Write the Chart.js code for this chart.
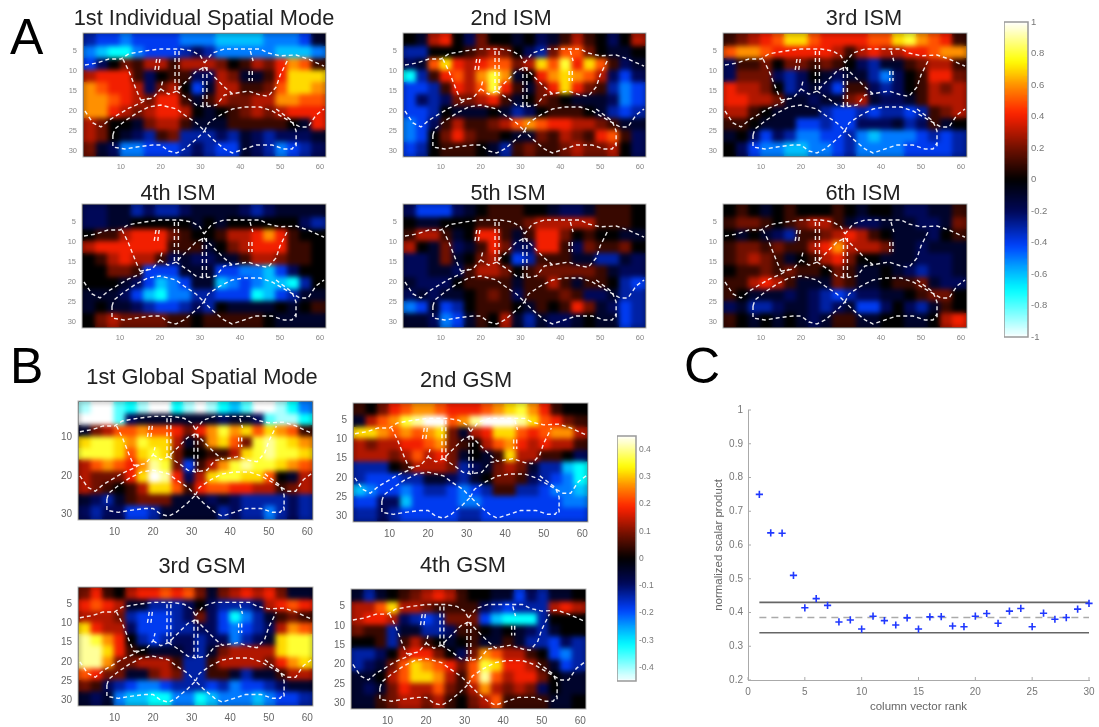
<!DOCTYPE html>
<html>
<head>
<meta charset="utf-8">
<script src="https://cdn.jsdelivr.net/npm/chart.js@4"></script>
<style>
  html,body{margin:0;padding:0;background:#fff;width:1099px;height:727px;overflow:hidden}
  #page{position:absolute;left:0;top:0;width:1099px;height:727px;filter:blur(.5px)}
  #page canvas{position:absolute}
  .ttl{position:absolute;font:21.8px/22px "Liberation Sans",sans-serif;color:#222;white-space:nowrap;transform:translateX(-50%)}
  .let{position:absolute;font:50px/50px "Liberation Sans",sans-serif;color:#000}
</style>
</head>
<body>
<div id="page"></div>
<script>
// tick lists
const xTicks = [10,20,30,40,50,60];
const yTicks = [5,10,15,20,25,30];
const yTicksG1 = [10,20,30];
const cbTicksA = [-1,-0.8,-0.6,-0.4,-0.2,0,0.2,0.4,0.6,0.8,1];
const cbTicksB = [-0.4,-0.3,-0.2,-0.1,0,0.1,0.2,0.3,0.4];
const rankTicks = [0,5,10,15,20,25,30];
const scoreTicks = [0.2,0.3,0.4,0.5,0.6,0.7,0.8,0.9,1];

// colour bar levels
const cbLevels = [-1,-.96,-.92,-.88,-.84,-.8,-.76,-.72,-.68,-.64,-.6,-.56,-.52,-.48,-.44,-.4,-.36,-.32,-.28,-.24,-.2,-.16,-.12,-.08,-.04,0,.04,.08,.12,.16,.2,.24,.28,.32,.36,.4,.44,.48,.52,.56,.6,.64,.68,.72,.76,.8,.84,.88,.92,.96,1];

// heat maps, one value every 3 cells, tenths of the colour range
const cellX = [2.5,5.5,8.5,11.5,14.5,17.5,20.5,23.5,26.5,29.5,32.5,35.5,38.5,41.5,44.5,47.5,50.5,53.5,56.5,59.5];
const cellY = [2.5,5.5,8.5,11.5,14.5,17.5,20.5,23.5,26.5,29.5];
const ism1 = [
[-3,-4,-4,-5,-4,-4,-4,-4,-5,-5,-5,-6,-6,-6,-6,-5,-5,-5,-4,-1],
[-5,-6,-7,-7,-5,-4,-4,-4,-3,-2,-3,-5,-5,-5,-5,-5,-6,-6,-6,-5],
[-4,-2,0,2,1,3,3,1,3,3,3,2,0,1,3,2,4,6,5,1],
[3,4,4,4,1,-2,0,1,1,-2,-2,3,2,-1,-1,1,4,7,7,7],
[6,5,4,4,3,-2,2,3,0,-4,-1,3,3,1,1,2,5,7,7,6],
[6,6,5,4,3,2,4,4,1,-1,1,3,2,2,3,3,6,6,5,5],
[6,6,4,3,2,3,4,4,3,0,-1,0,1,2,3,2,3,4,4,4],
[3,2,0,0,-1,2,3,3,1,-1,-1,-1,1,1,1,1,1,0,-1,4],
[3,2,0,-1,-2,-3,1,2,-3,-3,-3,-2,-3,-1,-2,-3,-2,-2,-2,-1],
[2,-1,-2,-5,-5,-4,-4,-4,-3,-2,-3,-4,-4,-1,-2,-3,-5,-4,-3,-2]];
const ism2 = [
[0,-1,3,4,0,-2,2,0,0,-1,0,-2,-1,1,3,1,0,-2,0,3],
[-3,-3,0,0,0,1,2,3,2,0,-2,-3,2,5,5,2,0,-1,-1,0],
[-2,-1,5,7,4,3,4,5,5,2,3,7,5,8,4,7,5,1,-2,-1],
[-7,-3,1,4,5,3,6,8,6,-1,0,4,6,7,6,5,3,-2,-4,-2],
[-4,-4,-3,1,4,3,5,8,4,1,-1,2,4,7,4,2,1,-3,-5,-4],
[-4,-2,-3,-2,2,2,3,4,1,-1,0,2,1,0,-1,-1,-1,-2,-5,-4],
[-4,-4,-3,0,-1,-1,-1,0,-1,-3,-2,0,1,1,1,0,-1,-3,-4,-3],
[-5,-4,-2,1,3,1,1,2,3,5,6,5,4,4,3,3,2,1,-1,-1],
[-5,-4,0,2,4,2,1,1,0,-1,-1,2,1,3,2,1,4,5,1,-2],
[-4,-3,0,1,1,1,0,-1,-3,1,2,1,1,2,3,2,2,3,0,-2]];
const ism3 = [
[1,2,3,4,5,7,7,5,4,4,4,4,5,5,7,8,6,5,4,1],
[5,6,6,5,4,4,4,4,4,3,1,3,4,3,3,4,4,5,6,6],
[-2,1,1,2,0,2,2,1,2,1,0,-2,-3,-1,-1,1,2,3,3,1],
[-2,2,2,2,-2,-3,-2,0,-1,-2,-1,-1,-3,-5,-2,0,1,4,4,2],
[4,3,3,2,0,-3,-2,-1,-2,-4,1,1,-2,-3,-2,0,1,3,2,3],
[4,4,3,3,2,-1,-1,-2,-1,-1,2,3,-1,-2,-2,-1,1,3,3,3],
[3,3,1,0,-1,-1,-1,-1,-3,-4,-4,-3,-4,-3,-3,-4,-3,1,2,3],
[1,1,0,-1,-1,-1,-4,-4,-3,-4,-4,-2,-2,-2,-1,-3,-2,1,-1,0],
[-1,0,-2,-4,-2,-3,-5,-5,-4,-4,-3,-5,-6,-5,-5,-5,-4,-3,-4,-3],
[0,-2,-4,-5,-5,-6,-6,-5,-5,-4,-3,-5,-5,-5,-5,-4,-4,-4,-4,-3]];
const ism4 = [
[-2,-2,-1,-1,-3,-2,-3,-3,-2,-1,-1,-1,-1,-2,-3,-2,-1,-1,-1,-1],
[-2,-2,-1,-1,0,0,0,0,0,-1,0,-1,0,0,0,0,0,0,-2,-3],
[0,1,1,3,4,4,4,2,1,0,0,1,3,3,4,6,4,1,0,0],
[3,4,4,4,4,4,4,1,1,1,-1,0,2,3,4,4,4,1,1,0],
[0,1,3,4,3,3,1,-2,-1,-2,-2,-1,-1,1,3,3,2,1,1,0],
[0,0,2,2,1,-4,-4,-4,-1,-1,-1,-4,-4,-5,-5,-6,-4,-2,0,0],
[0,0,0,-1,-2,-4,-6,-5,-4,-1,-1,-6,-5,-4,-5,-6,-6,-7,-3,0],
[-1,-1,-1,-2,-4,-6,-7,-5,-5,-3,-3,-4,-4,-4,-7,-6,-4,-3,-1,-1],
[-1,0,-1,-1,-2,-3,-4,-4,-3,-2,-3,0,-1,-1,-1,-1,0,-1,0,1],
[0,2,3,2,2,2,2,1,1,0,1,1,1,1,1,0,-1,-1,-1,-1]];
const ism5 = [
[-2,-4,-4,-4,-2,-1,0,1,1,1,0,0,-1,-2,-2,-1,1,1,1,0],
[0,-1,-1,0,0,0,1,1,1,1,2,3,3,3,3,3,1,1,1,0],
[1,3,3,1,-1,0,4,4,1,-1,1,4,4,2,0,1,0,0,-1,-1],
[3,0,-1,2,-2,-1,1,4,2,-2,-2,4,4,1,-2,2,1,1,2,0],
[-2,-2,-1,2,-1,0,2,3,0,-4,-3,1,1,1,-1,-1,-3,-3,-1,-2],
[-2,-2,-1,-1,-2,1,3,3,2,0,1,2,2,2,2,2,1,-1,-2,-2],
[-1,-2,-2,-2,0,1,1,1,1,-1,1,1,3,1,-1,1,1,0,-3,-4],
[-2,-1,-2,-1,-1,0,1,2,1,-2,1,1,1,2,1,-2,-2,-1,-3,-3],
[-5,-4,-1,-4,-3,0,1,1,1,0,-1,1,0,1,4,2,-1,-2,-4,-3],
[-1,-1,-2,-5,-4,-1,1,0,3,-1,-3,-1,-2,-2,-1,0,-1,-1,-4,-3]];
const ism6 = [
[0,1,0,-1,0,1,0,0,0,1,0,-1,0,0,-1,-2,-2,-1,-1,1],
[1,2,2,1,0,1,2,3,3,1,-1,-2,-2,-1,-1,-1,-2,-2,-1,2],
[0,-1,0,-1,-2,-3,1,1,2,3,4,3,1,0,-1,-1,-1,-2,0,1],
[1,2,2,1,2,1,1,3,4,6,3,3,3,2,-1,-1,-2,-1,-1,-1],
[1,2,3,2,1,-1,0,1,3,4,2,0,0,-1,-1,-1,-2,-2,-2,-1],
[0,1,1,2,1,2,1,1,0,2,1,-1,-1,0,-1,-2,-3,-2,-2,-1],
[1,1,3,4,3,1,-1,-1,-1,2,1,-1,-1,0,1,1,2,-1,-2,-2],
[1,0,-1,-1,-1,-2,-1,-2,-3,-4,-3,-2,-2,-1,-1,0,1,2,2,0],
[-2,-1,-3,-3,-2,-1,-1,-2,-3,-2,-1,-4,-4,-2,0,-2,-3,-1,1,0],
[1,0,-1,0,-1,0,-1,-2,-1,1,1,-1,-1,0,0,-1,-1,0,3,4]];
const gsm1 = [
[-9,-10,-10,-8,-7,-9,-10,-10,-7,-9,-10,-9,-7,-6,-8,-10,-10,-9,-7,-5],
[-10,-10,-10,-8,-2,-1,-1,-1,-1,-1,-1,-1,-2,-1,-1,-2,-8,-9,-9,-7],
[-1,2,3,5,5,6,5,5,4,2,4,6,8,6,7,5,7,6,5,1],
[7,8,8,7,6,8,7,7,3,-1,1,6,7,5,2,8,9,8,7,6],
[8,8,8,7,5,7,8,7,2,0,0,1,1,3,7,8,9,8,8,7],
[3,5,6,5,4,6,9,8,2,-4,1,3,6,8,9,8,8,7,6,5],
[3,2,2,2,4,7,10,9,4,-2,3,7,8,8,7,7,5,0,-1,3],
[3,2,1,0,1,3,7,7,5,1,4,5,5,4,4,3,3,1,2,3],
[-1,-2,-3,-1,1,2,2,2,-1,-1,-1,-2,-1,-2,-3,-3,-3,-3,-2,-3],
[-2,-3,-2,-2,-4,-4,-3,-1,-1,-1,-1,-1,-3,-2,-3,-3,-5,-3,-2,-3]];
const gsm2 = [
[1,0,2,4,5,6,6,5,4,4,4,5,6,7,8,6,4,1,0,0],
[-1,3,5,6,8,9,10,10,5,6,9,10,10,10,9,7,5,4,2,1],
[7,7,6,5,6,5,6,7,2,-1,3,4,7,7,5,4,5,6,6,3],
[3,2,3,3,4,4,5,6,2,1,0,3,5,6,4,3,4,3,3,1],
[3,3,3,2,3,5,3,4,2,-1,0,-1,1,7,3,3,1,1,0,-2],
[-3,-3,-3,0,1,3,3,3,2,-3,-2,-1,2,3,2,-1,-3,-3,-6,-7],
[-3,-4,-4,-4,-3,-3,-1,-1,-2,-3,-1,0,2,2,1,-2,-3,-4,-5,-7],
[-6,-5,-4,-4,-5,-4,-3,-3,-4,-5,-4,-3,1,1,-3,-3,-4,-5,-5,-6],
[-4,-4,-2,-2,-6,-4,-4,-4,-4,-5,-5,-4,-4,-4,-4,-4,-4,-4,-5,-5],
[-3,-3,-2,-3,-4,-4,-4,-4,-4,-3,-3,-4,-4,-4,-4,-4,-4,-4,-4,-4]];
const gsm3 = [
[2,4,1,0,3,4,4,5,4,5,2,-1,2,3,4,3,4,2,-1,-1],
[4,5,4,3,-1,-1,-3,-3,-3,-2,0,-2,-3,-3,-3,-2,3,4,5,4],
[3,3,3,2,-3,-4,-4,-4,-3,-2,2,-2,-4,-7,-5,-3,-1,1,2,1],
[7,4,3,3,-2,-4,-4,-4,-3,-3,-2,-2,-4,-5,-4,-3,-2,3,6,5],
[9,8,6,4,0,-3,-4,-3,-2,-2,-3,-2,-2,-5,-3,-2,-1,7,8,8],
[9,9,7,4,1,0,-1,-1,-1,-2,-3,-1,2,3,3,3,3,7,8,8],
[9,9,6,2,2,3,3,3,1,-3,-3,1,3,3,3,3,2,4,6,7],
[5,4,2,2,-1,-1,2,3,2,-3,-3,1,1,-1,-3,-1,-1,1,3,3],
[2,1,-2,-3,-4,-5,-5,-4,-3,-3,-3,-4,-3,-5,-4,-4,-3,-2,-1,-1],
[-1,-2,-1,-5,-6,-6,-7,-7,-5,-5,-7,-6,-5,-5,-5,-6,-5,-4,-4,-3]];
const gsm4 = [
[-1,-3,-1,0,1,2,3,4,3,1,0,0,-1,-1,-4,-2,-3,-1,-1,0],
[3,3,5,7,3,3,2,1,1,1,1,-2,-3,-4,-3,-3,-3,3,4,3],
[3,4,4,3,-2,-3,-4,-3,2,2,2,-4,-6,-7,-7,-7,-3,0,0,0],
[2,1,1,-3,-1,-1,-3,-3,-2,1,1,0,-1,0,-1,-2,-3,-1,0,0],
[0,0,1,-3,1,3,1,0,-1,0,1,-1,-1,1,-1,-3,-3,-4,-2,-3],
[-3,-3,-2,0,3,4,4,2,0,-2,2,6,5,3,3,1,0,-4,-5,-3],
[-3,-2,-1,2,5,7,6,5,4,2,5,8,7,4,4,3,1,-1,-4,-3],
[-1,-1,0,3,5,7,7,6,3,1,5,9,5,3,4,4,2,0,-1,-1],
[-1,-2,-1,2,4,3,3,5,2,1,3,6,3,2,3,2,-2,0,-1,-1],
[-1,-1,1,2,3,3,2,3,1,0,2,3,5,1,1,1,1,-1,-1,0]];

// dashed region outlines, [column,row]
const outlines = [
 [[1,8.5],[4,8],[7,7],[10,7],[12,5.7],[16,5],[20,4.5],[25,4.5],[28,5],[30,6.2],[31,8]],
 [[31,8],[33,5.5],[36,4.5],[45,4.5],[47,5.5],[50,6.2],[54,6],[57,7],[61,8.8]],
 [[10.5,7],[12,10],[13,12.5],[14,15],[15,17.3]],
 [[15,17.3],[18,16.8],[20,14.5],[20.5,12.5]],
 [[19,7],[18.5,10]],[[19.8,7],[19.4,10]],
 [[23.6,5],[23.6,15]],[[24.6,5],[24.6,15]],
 [[20,14.5],[22,15.8],[24,15],[26,13],[29,10],[31,9]],
 [[31,9],[33,11],[36,14],[38,15.7],[42,15],[45,16],[47,16.3],[49,14],[50,11],[52,7]],
 [[30.6,9],[30.6,19]],[[31.6,9],[31.6,19]],
 [[24,15],[27,17],[29,18.5],[31,19],[34,18.5],[36,16],[38,15.7]],
 [[1,20],[3,23],[5,24],[7,22.3],[10,20.5],[12,19.3],[15,18],[17,16.8]],
 [[8,26],[8.5,24.5],[11,22.5],[14,20.5],[17,19],[20,18.5],[24,19.5],[26,21],[29,23],[31,25]],
 [[31,25],[32,23],[35,21],[38,19.5],[41,19],[45,19],[48,20],[52,22.3],[55,24],[57,24],[59,21],[61,19.5]],
 [[49,19.5],[53,22.5],[54,25],[54,29]],
 [[8,26],[8,29],[11,29.5],[14,29],[18,28.5],[20,28.5],[22,30],[24,30.5],[26,29.5],[29,27],[31,25],[33,27],[36,29.5],[38,30.5],[41,29.5],[44,28.5],[48,28.5],[51,29.5],[53,29.5],[54,28]],
 [[42.5,5],[43.2,7.5]],
 [[42.2,10],[42.2,12.5]],[[43,10],[43,12.5]]
];

// panel C
const ranks = [1,2,3,4,5,6,7,8,9,10,11,12,13,14,15,16,17,18,19,20,21,22,23,24,25,26,27,28,29,30];
const scores = [.75,.636,.635,.51,.414,.441,.421,.372,.378,.351,.389,.376,.363,.384,.351,.387,.388,.36,.358,.389,.397,.368,.404,.412,.358,.398,.38,.385,.41,.427];
const upperLine = [.43,.43];
const meanLine = [.385,.385];
const lowerLine = [.34,.34];
const lineEnds = [1,30];

const colorStops = [[-1,[255,255,255]],[-.7,[0,255,255]],[-.55,[0,160,255]],[-.42,[0,64,255]],[-.2,[0,8,88]],[0,[0,0,0]],[.2,[112,16,0]],[.42,[255,32,0]],[.6,[255,144,0]],[.75,[255,255,0]],[1,[255,255,255]]];
function cmap(t) {
  t = Math.max(-1, Math.min(1, t));
  for (let i = 1; i < colorStops.length; i++) {
    const [b, cb] = colorStops[i], [a, ca] = colorStops[i-1];
    if (t <= b) {
      const f = (t-a)/(b-a);
      return `rgb(${ca.map((c,k)=>Math.round(c+(cb[k]-c)*f)).join(',')})`;
    }
  }
}

const page = document.getElementById('page');
function addCanvas(l, t, w, h) {
  const c = document.createElement('canvas');
  c.width = w; c.height = h;
  c.style.left = l+'px'; c.style.top = t+'px';
  c.style.width = w+'px'; c.style.height = h+'px';
  page.appendChild(c);
  return c;
}
function addText(cls, txt, x, y) {
  const d = document.createElement('div');
  d.className = cls; d.textContent = txt;
  d.style.left = x+'px'; d.style.top = y+'px';
  page.appendChild(d);
}

// black behind the cells, grey frame on top
const framePlugin = {
  id: 'frame',
  beforeDatasetsDraw(chart, args, o) {
    if (!o.fill) return;
    const a = chart.chartArea;
    chart.ctx.fillStyle = o.fill;
    chart.ctx.fillRect(a.left, a.top, a.width, a.height);
  },
  afterDraw(chart, args, o) {
    if (!o.stroke) return;
    const a = chart.chartArea, ctx = chart.ctx;
    ctx.save();
    ctx.strokeStyle = o.stroke; ctx.lineWidth = o.width || 1;
    ctx.strokeRect(a.left, a.top, a.width, a.height);
    ctx.restore();
  }
};
// soften the heat cells once they are drawn, the source picture is low resolution
const softPlugin = {
  id: 'soft',
  afterDatasetDraw(chart, args, o) {
    if (!o.px || args.index !== 0) return;
    const a = chart.chartArea, ctx = chart.ctx;
    const off = document.createElement('canvas');
    off.width = a.width; off.height = a.height;
    off.getContext('2d').drawImage(chart.canvas, a.left, a.top, a.width, a.height, 0, 0, a.width, a.height);
    ctx.save();
    ctx.beginPath(); ctx.rect(a.left, a.top, a.width, a.height); ctx.clip();
    ctx.filter = `blur(${o.px}px)`;
    ctx.drawImage(off, a.left, a.top);
    ctx.restore();
  }
};
// short ticks pointing into the plot, panel C only
const innerTicks = {
  id: 'innerTicks',
  afterDraw(chart) {
    const { ctx, scales:{ x, y }, chartArea:a } = chart;
    ctx.save();
    ctx.strokeStyle = '#aaa'; ctx.lineWidth = 1;
    ctx.beginPath();
    rankTicks.forEach(v => { const p = x.getPixelForValue(v); ctx.moveTo(p, a.bottom); ctx.lineTo(p, a.bottom-3); });
    scoreTicks.forEach(v => { const p = y.getPixelForValue(v); ctx.moveTo(a.left, p); ctx.lineTo(a.left+3, p); });
    ctx.stroke();
    ctx.restore();
  }
};

function tickAxis(list, extra) {
  return Object.assign({
    afterBuildTicks: s => { s.ticks = list.map(v => ({value:v})); },
    grid: { display:false, drawTicks:false },
    border: { display:false }
  }, extra);
}
// keep the plot box where it is asked to be, labels may overhang
const fixX = h => s => { s.height = h; s.paddingLeft = 0; s.paddingRight = 0; };
const fixY = w => s => { s.width = w; s.paddingTop = 0; s.paddingBottom = 0; };

function heatPanel(cfg) {
  const [l, t, w, h] = cfg.box;
  const c = addCanvas(l-30, t-6, w+36, h+30);
  const pts = [], cols = [];
  cfg.data.forEach((row, j) => row.forEach((v, i) => {
    pts.push({x:cellX[i], y:cellY[j]});
    cols.push(cmap(v/10));
  }));
  const cell = 3*w/61;
  const tickFont = { family:'"Liberation Sans"', size:cfg.font };
  new Chart(c, {
    type: 'scatter',
    data: { datasets: [{
      data: pts, order: 2,
      pointStyle: 'rect', pointRadius: cell*1.17/Math.SQRT2, pointHoverRadius: 0,
      pointBackgroundColor: cols, pointBorderWidth: 0
    }].concat(outlines.map(o => ({
      data: o.map(p => ({x:p[0], y:p[1]})), order: 1,
      showLine: true, pointRadius: 0, borderColor: 'rgba(255,255,255,.9)',
      borderWidth: 1.4, borderDash: [4,3]
    }))) },
    options: {
      responsive: false, animation: false,
      events: [],
      layout: { autoPadding:false, padding: { top:6, right:6 } },
      scales: {
        x: tickAxis(xTicks, { type:'linear', min:0.5, max:61.5,
          afterFit: fixX(24),
          ticks: { color:cfg.color, font:tickFont, padding:cfg.font > 8 ? 6 : 5, maxRotation:0, autoSkip:false } }),
        y: tickAxis(cfg.yt, { type:'linear', min:0.5, max:31.5, reverse:true,
          afterFit: fixY(30),
          ticks: { color:cfg.color, font:tickFont, padding:6, autoSkip:false } })
      },
      plugins: {
        legend: { display:false }, tooltip: { enabled:false },
        frame: { fill:'#000', stroke:'#b5b5b5', width:1 },
        soft: { px: 2.5 }
      }
    },
    plugins: [framePlugin, softPlugin]
  });
  addText('ttl', cfg.title, cfg.tx, cfg.ty-17);
}

heatPanel({ title:'1st Individual Spatial Mode', data:ism1, box:[83,33,243,124], yt:yTicks, font:7.5, color:'#888', tx:204, ty:24 });
heatPanel({ title:'2nd ISM', data:ism2, box:[403,33,243,124], yt:yTicks, font:7.5, color:'#888', tx:511, ty:24 });
heatPanel({ title:'3rd ISM', data:ism3, box:[723,33,244,124], yt:yTicks, font:7.5, color:'#888', tx:864, ty:24 });
heatPanel({ title:'4th ISM', data:ism4, box:[82,204,244,124], yt:yTicks, font:7.5, color:'#888', tx:178, ty:199 });
heatPanel({ title:'5th ISM', data:ism5, box:[403,204,243,124], yt:yTicks, font:7.5, color:'#888', tx:508, ty:199 });
heatPanel({ title:'6th ISM', data:ism6, box:[723,204,244,124], yt:yTicks, font:7.5, color:'#888', tx:863, ty:199 });
heatPanel({ title:'1st Global Spatial Mode', data:gsm1, box:[78,401,235,119], yt:yTicksG1, font:10, color:'#666', tx:202, ty:383 });
heatPanel({ title:'2nd GSM', data:gsm2, box:[353,403,235,119], yt:yTicks, font:10, color:'#666', tx:466, ty:386 });
heatPanel({ title:'3rd GSM', data:gsm3, box:[78,587,235,119], yt:yTicks, font:10, color:'#666', tx:202, ty:572 });
heatPanel({ title:'4th GSM', data:gsm4, box:[351,589,235,120], yt:yTicks, font:10, color:'#666', tx:463, ty:571 });

function colorBar(box, range, ticks, size) {
  const [l, t, w, h] = box;
  const c = addCanvas(l, t-6, w+30, h+12);
  new Chart(c, {
    type: 'bar',
    data: { datasets: [{
      data: cbLevels.map(v => ({x:1, y:v*range})),
      backgroundColor: cbLevels.map(v => cmap(v)),
      barPercentage: 1, categoryPercentage: 1, borderWidth: 0
    }] },
    options: {
      responsive: false, animation: false, indexAxis: 'y', events: [],
      layout: { autoPadding:false, padding: { top:6, bottom:6 } },
      scales: {
        x: { type:'linear', min:0, max:1, display:false },
        y: tickAxis(ticks, { type:'linear', position:'right', min:-range, max:range, offset:false,
          afterFit: fixY(30),
          ticks: { color:'#777', font:{ family:'"Liberation Sans"', size:size }, padding:3, autoSkip:false,
            callback: v => String(v) } })
      },
      plugins: {
        legend: { display:false }, tooltip: { enabled:false },
        frame: { stroke:'#999', width:1.5 },
        soft: { px: 3 }
      }
    },
    plugins: [framePlugin, softPlugin]
  });
}
colorBar([1004,22,24,315], 1, cbTicksA, 9.5);
colorBar([617,436,19,245], 0.45, cbTicksB, 8.5);

// panel C
const lineSet = (ys, color, dash) => ({
  type:'line', data: lineEnds.map((x,i) => ({x, y:ys[i]})), borderColor:color, borderWidth:1.6,
  borderDash:dash, pointRadius:0, clip:false
});
const cFont = { family:'"Liberation Sans"', size:10 };
const cTitle = { family:'"Liberation Sans"', size:11.5 };
new Chart(addCanvas(708, 404, 389, 318), {
  type: 'scatter',
  data: { datasets: [
    { data: ranks.map((x,i) => ({x, y:scores[i]})), pointStyle:'cross', pointRadius:3.6, pointBorderColor:'#2038ff',
      pointBackgroundColor:'#2038ff', pointBorderWidth:1.6, clip:false },
    lineSet(upperLine, '#666', []),
    lineSet(meanLine, '#aaa', [7,5]),
    lineSet(lowerLine, '#666', [])
  ] },
  options: {
    responsive: false, animation: false, events: [],
    layout: { autoPadding:false, padding: { top:6, right:8 } },
    scales: {
      x: tickAxis(rankTicks, { type:'linear', min:0, max:30,
        afterFit: fixX(42),
        border: { display:true, color:'#aaa' },
        ticks: { color:'#777', font:cFont, padding:6, autoSkip:false, maxRotation:0 },
        title: { display:true, text:'column vector rank', color:'#666', font:cTitle, padding:{ top:0, bottom:8 } } }),
      y: tickAxis(scoreTicks, { type:'linear', min:0.2, max:1,
        afterFit: fixY(40),
        border: { display:true, color:'#aaa' },
        ticks: { color:'#777', font:cFont, padding:5, autoSkip:false, callback: v => String(v) },
        title: { display:true, text:'normalized scalar product', color:'#666', font:cTitle, padding:{ top:4, bottom:0 } } })
    },
    plugins: { legend:{ display:false }, tooltip:{ enabled:false } }
  },
  plugins: [innerTicks]
});

addText('let', 'A', 10, 12);
addText('let', 'B', 10, 341);
addText('let', 'C', 684, 341);
</script>
</body>
</html>
